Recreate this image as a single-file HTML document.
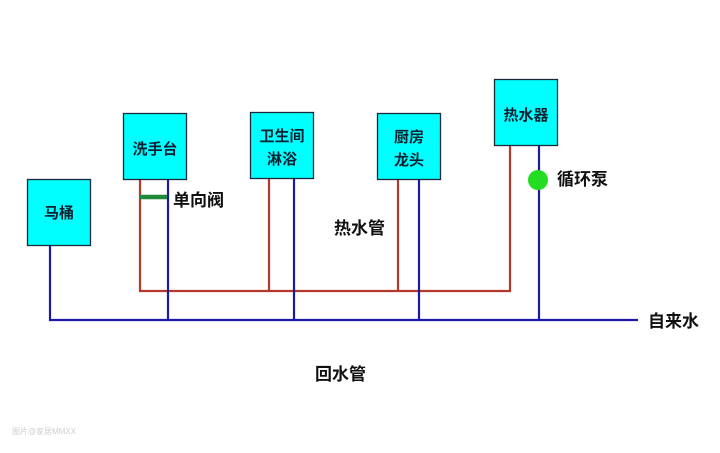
<!DOCTYPE html>
<html><head><meta charset="utf-8"><style>
body{margin:0;background:#fff;}
svg text{font-family:"Liberation Sans","Noto Sans CJK SC",sans-serif;}
</style></head><body>
<svg width="720" height="448" xmlns="http://www.w3.org/2000/svg">
<rect width="720" height="448" fill="#fff"/>
<g stroke="#b5392a" stroke-width="2.2" fill="none">
<polyline points="140,179 140,291 510,291 510,145"/>
<line x1="269" y1="178" x2="269" y2="291"/>
<line x1="398" y1="179" x2="398" y2="291"/>
</g>
<g stroke="#1a1aa8" stroke-width="2.2" fill="none">
<polyline points="50,245 50,320 638,320"/>
<line x1="168" y1="179" x2="168" y2="319"/>
<line x1="294" y1="178" x2="294" y2="319"/>
<line x1="419" y1="179" x2="419" y2="319"/>
<line x1="539" y1="145" x2="539" y2="320"/>
</g>
<line x1="140" y1="197" x2="167" y2="197" stroke="#1e8a3a" stroke-width="4.5"/>
<circle cx="538" cy="180" r="10" fill="#22dd22"/>
<g fill="#00ffff" stroke="#1a2a3a" stroke-width="1.3">
<rect x="27.5" y="179.5" width="63" height="66"/>
<rect x="123.5" y="113.5" width="63" height="66"/>
<rect x="250.5" y="112.5" width="63" height="66"/>
<rect x="377.5" y="113.5" width="63" height="66"/>
<rect x="494.5" y="79.5" width="63" height="66"/>
</g>
<g fill="#102030" font-size="15" font-weight="bold" text-anchor="middle">
<text x="59" y="218">马桶</text>
<text x="155" y="154">洗手台</text>
<text x="282" y="141">卫生间</text>
<text x="282" y="164">淋浴</text>
<text x="409" y="142">厨房</text>
<text x="409" y="165">龙头</text>
<text x="526" y="120">热水器</text>
</g>
<g fill="#111" font-size="17" font-weight="bold">
<text x="173" y="206">单向阀</text>
<text x="334" y="234">热水管</text>
<text x="557" y="185">循环泵</text>
<text x="648" y="327">自来水</text>
<text x="315" y="380">回水管</text>
</g>
<text x="12" y="434" font-size="8" fill="#ccc">图片@家居MMXX</text>
</svg>
</body></html>
